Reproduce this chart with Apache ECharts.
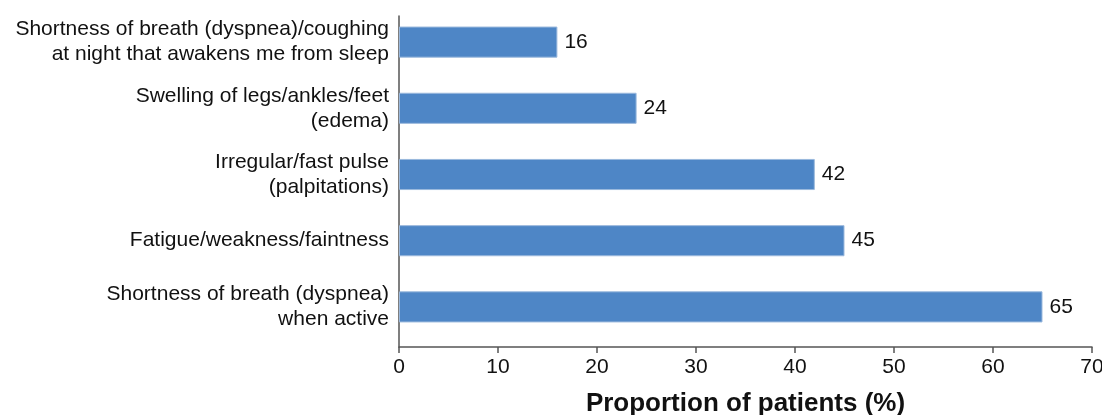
<!DOCTYPE html>
<html>
<head>
<meta charset="utf-8">
<script src="https://cdn.jsdelivr.net/npm/echarts@6/dist/echarts.min.js"></script>
<style>
  html, body { margin: 0; padding: 0; background: #fff; }
  #chart { width: 1102px; height: 415px; }
</style>
</head>
<body>
<div id="chart"></div>
<script>
// Symptom categories, listed bottom to top on the category axis
const symptoms = [
  'Shortness of breath (dyspnea)\nwhen active',
  'Fatigue/weakness/faintness',
  'Irregular/fast pulse\n(palpitations)',
  'Swelling of legs/ankles/feet\n(edema)',
  'Shortness of breath (dyspnea)/coughing\nat night that awakens me from sleep'
];
// Proportion of patients reporting each symptom (%)
const proportions = [65, 45, 42, 24, 16];
// Value axis range and tick step
const axisMin = 0;
const axisMax = 70;
const axisStep = 10;

const fontFamily = '"Liberation Sans", Arial, sans-serif';
const axisColor = '#555';
const chart = echarts.init(document.getElementById('chart'));
chart.setOption({
  animation: false,
  grid: [
    // bars and category labels
    { left: 399, right: 10, top: 9, bottom: 75, containLabel: false, outerBoundsMode: 'none' },
    // frame: visible value axis and vertical axis line
    { left: 399, right: 10, top: 16, bottom: 68, containLabel: false, outerBoundsMode: 'none' }
  ],
  xAxis: [
    {
      gridIndex: 0,
      type: 'value',
      min: axisMin,
      max: axisMax,
      interval: axisStep,
      show: false
    },
    {
      gridIndex: 1,
      type: 'value',
      min: axisMin,
      max: axisMax,
      interval: axisStep,
      name: 'Proportion of patients (%)',
      nameLocation: 'middle',
      nameGap: 44,
      nameTextStyle: { fontFamily, fontSize: 26, fontWeight: 'bold', color: '#111' },
      axisLine: { show: true, lineStyle: { color: axisColor, width: 1.5 } },
      axisTick: { show: true, length: 6, lineStyle: { color: axisColor, width: 1.5 } },
      axisLabel: { fontFamily, fontSize: 21, color: '#111', margin: 10 },
      splitLine: { show: false }
    }
  ],
  yAxis: [
    {
      gridIndex: 0,
      type: 'category',
      data: symptoms,
      axisLine: { show: false },
      axisTick: { show: false },
      axisLabel: { fontFamily, fontSize: 21, color: '#111', margin: 10, lineHeight: 25, align: 'right' }
    },
    {
      gridIndex: 1,
      type: 'value',
      min: 0,
      max: 1,
      axisLine: { show: true, onZero: false, lineStyle: { color: axisColor, width: 1.5 } },
      axisTick: { show: false },
      axisLabel: { show: false },
      splitLine: { show: false }
    }
  ],
  series: [{
    type: 'bar',
    xAxisIndex: 0,
    yAxisIndex: 0,
    data: proportions,
    barWidth: '47%',
    itemStyle: { color: '#4e86c6', borderColor: '#9bb9dd', borderWidth: 1 },
    label: {
      show: true,
      position: 'right',
      distance: 7,
      fontFamily,
      fontSize: 21,
      color: '#111'
    }
  }]
});
</script>
</body>
</html>
